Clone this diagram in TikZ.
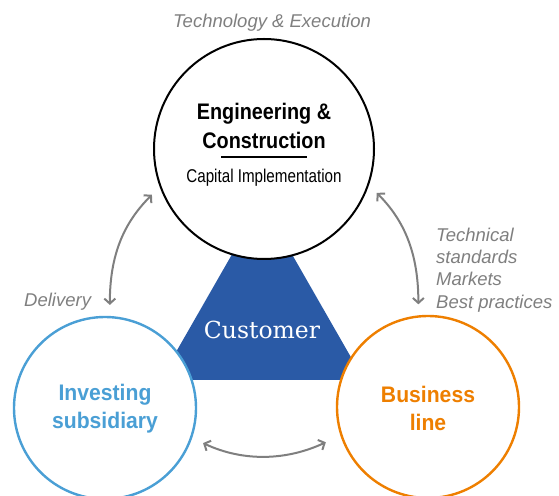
\documentclass[tikz,border=0pt]{standalone}
\usepackage{fontspec}
\setmainfont{Liberation Sans}
\newfontfamily\narrowsans[FakeStretch=0.82]{Liberation Sans}
\newfontfamily\titlesans[FakeStretch=0.88]{Liberation Sans}
\newfontfamily\unitsans[FakeStretch=0.94]{Liberation Sans}
\newfontfamily\slabserif{DejaVu Serif}
\usetikzlibrary{arrows.meta}
\definecolor{inkgrey}{HTML}{7F7F7F}
\definecolor{skyblue}{HTML}{4A9FD5}
\definecolor{amber}{HTML}{EE7F00}
\definecolor{navy}{HTML}{2A5AA6}

\begin{document}
\begin{tikzpicture}[x=1pt,y=1pt,
  unit/.style={circle,fill=white,line width=2.4pt,minimum size=182pt,inner sep=0pt},
  unitname/.style={inner sep=0pt,align=center,font=\unitsans\bfseries\fontsize{22.5}{27.5}\selectfont},
  note/.style={inkgrey,inner sep=0pt,font=\fontsize{18.5}{22.3}\selectfont\itshape},
  flow/.style={inkgrey,line width=2pt,
    {Straight Barb[length=5pt,width=11pt]}-{Straight Barb[length=5pt,width=11pt]}}]
  \useasboundingbox (0,0) rectangle (559,495);

  % customer in the middle
  \fill[navy] (262,293) -- (160,115) -- (364,115) -- cycle;
  \node[white,inner sep=0pt,anchor=base,font=\slabserif\fontsize{23.5}{28}\selectfont]
       (cust) at (262,156) {Customer};

  % the three parties
  \node[unit,draw=black,line width=2pt,minimum size=220pt] (ec) at (264,346) {};
  \node[unit,draw=skyblue] (inv) at (105,87) {};
  \node[unit,draw=amber] (bus) at (428,88) {};

  \node[inner sep=0pt,anchor=north,align=center,
        font=\titlesans\bfseries\fontsize{22.5}{29}\selectfont] (ectitle) at (264,391.5)
       {Engineering \&\\Construction};
  \draw[line width=1.5pt] (221,338) -- (307,338);
  \node[inner sep=0pt,anchor=base,font=\narrowsans\fontsize{18.5}{22}\selectfont]
       (ecsub) at (264,312) {Capital Implementation};
  \node[unitname,skyblue,anchor=north] (invname) at (105,111) {Investing\\subsidiary};
  \node[unitname,amber,anchor=north] (busname) at (428,109) {Business\\line};

  % links
  \draw[flow,shorten <=11pt,shorten >=11pt]
    (ec.200) .. controls +(225:51) and +(90:61) .. (inv.87);
  \draw[flow,shorten <=11pt,shorten >=11pt]
    (ec.341) .. controls +(315:51) and +(90:61) .. (bus.96);
  \draw[flow,shorten <=12pt,shorten >=16pt] (inv.341) to[out=-25,in=205] (bus.198);

  % what flows along them
  \node[note,anchor=base] (tech) at (272,467) {Technology \& Execution};
  \node[note,anchor=base west] (deliv) at (24,188) {Delivery};
  \node[note,anchor=north west,align=left] (stand) at (436,267.5)
       {Technical\\standards\\Markets\\Best practices};
\end{tikzpicture}
\end{document}
